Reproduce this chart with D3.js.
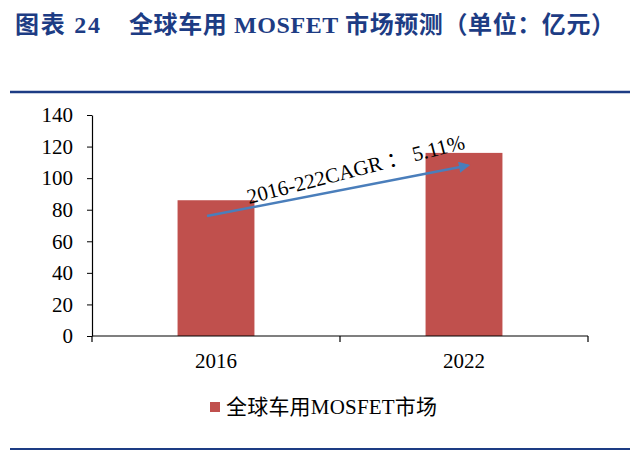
<!DOCTYPE html>
<html>
<head>
<meta charset="utf-8">
<script src="https://cdn.jsdelivr.net/npm/d3@7/dist/d3.min.js"></script>
<style>
  body { margin: 0; background: #fff; }
  svg { display: block; }
  text { font-family: "Liberation Serif", "Noto Sans CJK SC", serif; }
</style>
</head>
<body>
<svg id="chart" width="640" height="452"></svg>
<script>
// data
var years = ["2016", "2022"];
var marketValues = [86, 116];
var yTicks = [0, 20, 40, 60, 80, 100, 120, 140];
var seriesName = "全球车用MOSFET市场";
var cagrLabel = "2016-222CAGR ： 5.11%";
var arrowValues = [76, 108];

var svg = d3.select("#chart");
var navy = "#1d3c84";

// header
svg.append("text")
    .attr("x", 15).attr("y", 33)
    .attr("fill", navy)
    .attr("textLength", 85).attr("lengthAdjust", "spacing")
    .style("font-size", "24px").style("font-weight", "bold")
    .text("图表 24");
svg.append("text")
    .attr("x", 129).attr("y", 33)
    .attr("fill", navy)
    .attr("textLength", 486).attr("lengthAdjust", "spacing")
    .style("font-size", "24px").style("font-weight", "bold")
    .text("全球车用 MOSFET 市场预测（单位：亿元）");
svg.append("line")
    .attr("x1", 10).attr("x2", 630).attr("y1", 92).attr("y2", 92)
    .attr("stroke", navy).attr("stroke-width", 2.5);
svg.append("line")
    .attr("x1", 10).attr("x2", 630).attr("y1", 449).attr("y2", 449)
    .attr("stroke", navy).attr("stroke-width", 2);

// scales
var x = d3.scaleBand().domain(years).range([92, 588]);
var y = d3.scaleLinear().domain([0, 140]).range([336, 115]);
var barW = x.bandwidth() * 0.31;

// bars
svg.append("g")
    .selectAll("rect")
    .data(years)
    .enter()
    .append("rect")
    .attr("x", (d) => x(d) + x.bandwidth() / 2 - barW / 2)
    .attr("y", (d, i) => y(marketValues[i]))
    .attr("width", barW)
    .attr("height", (d, i) => y(0) - y(marketValues[i]))
    .attr("fill", "#c0504d");

// y axis
var yAxis = svg.append("g")
    .attr("transform", "translate(92,0)")
    .call(d3.axisLeft(y).tickValues(yTicks).tickSize(5).tickPadding(14).tickSizeOuter(0));
yAxis.select(".domain").attr("stroke", "#000").attr("stroke-width", 1.2);
yAxis.selectAll("text").style("font-size", "21px").attr("fill", "#000")
    .style("font-family", "Liberation Serif");

// x axis: ticks on band edges
var xAxis = svg.append("g")
    .attr("transform", "translate(0," + y(0) + ")");
xAxis.append("line")
    .attr("x1", 92).attr("x2", 588)
    .attr("stroke", "#000").attr("stroke-width", 1.2);
xAxis.selectAll("line.edge")
    .data([92, x("2022"), 588])
    .enter()
    .append("line")
    .attr("class", "edge")
    .attr("x1", (d) => d).attr("x2", (d) => d)
    .attr("y1", 0).attr("y2", 6)
    .attr("stroke", "#000").attr("stroke-width", 1.2);
xAxis.selectAll("text")
    .data(years)
    .enter()
    .append("text")
    .attr("x", (d) => x(d) + x.bandwidth() / 2)
    .attr("y", 32)
    .attr("text-anchor", "middle")
    .style("font-size", "21px")
    .text((d) => d);

// CAGR arrow
svg.append("defs").append("marker")
    .attr("id", "head")
    .attr("viewBox", "0 0 10 10")
    .attr("refX", 8).attr("refY", 5)
    .attr("markerWidth", 5).attr("markerHeight", 4.5)
    .attr("orient", "auto")
    .append("path")
    .attr("d", "M0,0 L10,5 L0,10 z")
    .attr("fill", "#4a7ebb");

var x1 = x("2016") + x.bandwidth() / 2 - 9,
    x2 = x("2022") + x.bandwidth() / 2 + 4;
svg.append("line")
    .attr("x1", x1).attr("y1", y(arrowValues[0]))
    .attr("x2", x2).attr("y2", y(arrowValues[1]))
    .attr("stroke", "#4a7ebb").attr("stroke-width", 2.5)
    .attr("marker-end", "url(#head)");

svg.append("text")
    .attr("transform", "translate(249,204) rotate(-14.4)")
    .attr("textLength", 224).attr("lengthAdjust", "spacing")
    .style("font-size", "21px")
    .text(cagrLabel);

// legend
svg.append("rect")
    .attr("x", 210).attr("y", 402)
    .attr("width", 10).attr("height", 10)
    .attr("fill", "#c0504d");
svg.append("text")
    .attr("x", 226).attr("y", 414)
    .attr("textLength", 211).attr("lengthAdjust", "spacing")
    .style("font-size", "21px")
    .text(seriesName);
</script>
</body>
</html>
